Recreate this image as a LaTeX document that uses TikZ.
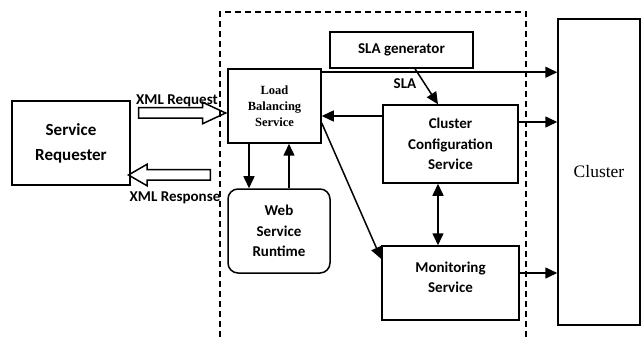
\documentclass[tikz,border=0pt]{standalone}
\usepackage{fontspec}
\setmainfont{Liberation Serif}
\setsansfont{Carlito}
\usetikzlibrary{arrows.meta,shapes.arrows}

\begin{document}
\begin{tikzpicture}[x=1pt,y=-1pt,
	box/.style={draw, line width=1.5pt, inner sep=0pt, align=center, font=\sffamily\bfseries\fontsize{15}{20.5}\selectfont},
	arr/.style={line width=1.5pt, -{Triangle[length=12pt,width=11pt]}},
	dblarr/.style={line width=1.5pt, {Triangle[length=12pt,width=11pt]}-{Triangle[length=12pt,width=11pt]}},
	xmlarrow/.style={draw, line width=1.5pt, single arrow, inner sep=0pt, text height=4.5pt, text depth=4.5pt, single arrow head extend=5.5pt},
	lbl/.style={font=\sffamily\bfseries\fontsize{15}{20}\selectfont, inner sep=0pt}]
			%%%%% START %%%%%
			\useasboundingbox (0,0) rectangle (641,337);
			
			% boxes
			\node[box, minimum width=118pt, minimum height=84pt, font=\sffamily\bfseries\fontsize{17}{25}\selectfont] (req) at (71,143) {Service\\Requester};
			\node[box, minimum width=93pt, minimum height=74pt, font=\rmfamily\bfseries\fontsize{12.5}{16}\selectfont] (lb) at (274.5,106) {Load\\Balancing\\Service};
			\node[box, minimum width=143pt, minimum height=36pt] (sla) at (401.5,50) {SLA generator};
			\node[box, minimum width=135pt, minimum height=78pt] (ccs) at (450.5,144) {Cluster\\Configuration\\Service};
			\node[box, minimum width=137pt, minimum height=74pt] (mon) at (450.5,283) {};
			\node[lbl, align=center] (montxt) at (450.5,277) {Monitoring\\Service};
			\node[box, rounded corners=10pt, minimum width=102pt, minimum height=84pt] (wsr) at (279,231) {Web\\Service\\Runtime};
			\node[draw, line width=1.5pt, minimum width=82pt, minimum height=306pt, font=\rmfamily\fontsize{17.5}{20}\selectfont] (cluster) at (599,172) {Cluster};
			
			% xml arrows
			\node[xmlarrow, single arrow tip angle=50, minimum height=87pt] (xmlreq) at (176.5,113) {};
			\node[xmlarrow, single arrow tip angle=60, minimum height=82pt, shape border rotate=180] (xmlresp) at (174,175) {};
			\node[lbl] (reqlbl) at (177,101) {XML Request};
			\node[lbl] (resplbl) at (175,198) {XML Response};
			
			% dashed frame
			\draw[line width=1.5pt, dash pattern=on 6pt off 4pt] (220,337) -- (220,12) -- (526,12) -- (526,337);
			
			% connectors
			\draw[arr] ([yshift=-4pt]lb.north east) -- ([yshift=-4pt]lb.north east -| cluster.west);
			\draw[arr] ([xshift=13.5pt]sla.south) -- ([xshift=-12.5pt]ccs.north);
			\node[lbl] (slalbl) at (405,84) {SLA};
			\draw[arr] ([yshift=28pt]ccs.west) -- ([yshift=28pt]ccs.west -| lb.east);
			\draw[arr] ([yshift=22pt]ccs.east) -- ([yshift=22pt]ccs.east -| cluster.west);
			\draw[arr] ([yshift=10pt]mon.east) -- ([yshift=10pt]mon.east -| cluster.west);
			\draw[arr] ([yshift=-17pt]lb.east) -- ([yshift=24pt]mon.west);
			\draw[dblarr] ([xshift=-12.5pt]ccs.south) -- ([xshift=-12.5pt]ccs.south |- mon.north);
			\draw[arr] ([xshift=-25.5pt]lb.south) -- ([xshift=-25.5pt]lb.south |- wsr.north);
			\draw[arr] ([xshift=14.5pt]lb.south |- wsr.north) -- ([xshift=14.5pt]lb.south);
			
			%%%%% END %%%%%
\end{tikzpicture}
\end{document}
